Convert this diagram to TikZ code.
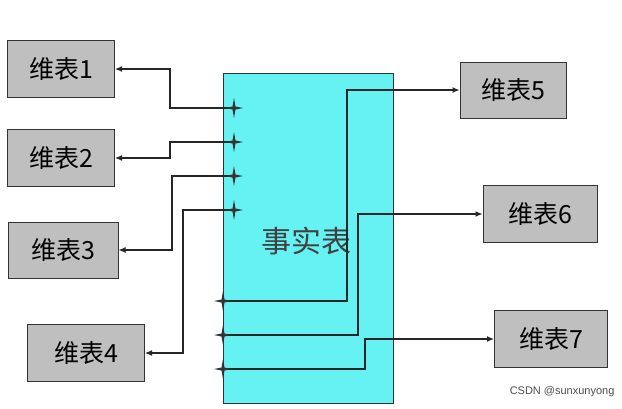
\documentclass[tikz,border=0pt]{standalone}
\usepackage{fontspec}
\setmainfont{Liberation Sans}
\newfontfamily\cjk{Noto Sans CJK SC}
\usetikzlibrary{arrows.meta}
\definecolor{factc}{HTML}{66F2F2}
\begin{document}
\begin{tikzpicture}[x=1pt,y=-1pt,
  dim/.style={draw=black!80,line width=1pt,fill=black!25,inner sep=0pt,font=\cjk\fontsize{25}{25}\selectfont},
  conn/.style={draw=black!85,line width=1.2pt,-{Latex[length=7pt,width=6pt]}},
  star/.style={fill=black!80,draw=none}]
\useasboundingbox (0,0) rectangle (622,408);
\node[draw=black!80,fill=factc,line width=1pt,minimum width=170pt,minimum height=330pt,anchor=north west,inner sep=0pt] (fact) at (223,73) {};
\node[font=\cjk\fontsize{30}{30}\selectfont,text=black!75] (ft) at (306,241) {事实表};
\node[dim,minimum width=107pt,minimum height=57pt] (d1) at (61,69) {维表1};
\node[dim,minimum width=107pt,minimum height=57pt] (d2) at (61,158) {维表2};
\node[dim,minimum width=110pt,minimum height=56pt] (d3) at (63,250) {维表3};
\node[dim,minimum width=117pt,minimum height=57pt] (d4) at (86,353) {维表4};
\node[dim,minimum width=106pt,minimum height=56pt] (d5) at (513,90) {维表5};
\node[dim,minimum width=114pt,minimum height=57pt] (d6) at (540,214) {维表6};
\node[dim,minimum width=113pt,minimum height=57pt] (d7) at (551,339) {维表7};
\coordinate (s1) at (234,108);
\coordinate (s2) at (234,142);
\coordinate (s3) at (234,176);
\coordinate (s4) at (234,210);
\coordinate (s5) at (223,301);
\coordinate (s6) at (223,335);
\coordinate (s7) at (223,369);
\draw[conn] (s1) -- (170,108) -- (170,69) -- (d1.east);
\draw[conn] (s2) -- (170,142) -- (170,158) -- (d2.east);
\draw[conn] (s3) -- (172,176) -- (172,250) -- (d3.east);
\draw[conn] (s4) -- (183,210) -- (183,353) -- (d4.east);
\draw[conn] (s5) -- (347,301) -- (347,90) -- (d5.west);
\draw[conn] (s6) -- (358,335) -- (358,214) -- (d6.west);
\draw[conn] (s7) -- (365,369) -- (365,339) -- (d7.west);
\foreach \s in {s1,s2,s3,s4,s5,s6,s7}{
  \fill[star] ([xshift=-9pt]\s) -- ([shift={(-1.5pt,-1.5pt)}]\s) -- ([yshift=-10pt]\s) -- ([shift={(1.5pt,-1.5pt)}]\s) -- ([xshift=9pt]\s) -- ([shift={(1.5pt,1.5pt)}]\s) -- ([yshift=10pt]\s) -- ([shift={(-1.5pt,1.5pt)}]\s) -- cycle;
}
\node[font=\fontsize{11}{11}\selectfont,text=black!70,anchor=south east] (wm) at (618,400) {CSDN @sunxunyong};
\end{tikzpicture}
\end{document}
